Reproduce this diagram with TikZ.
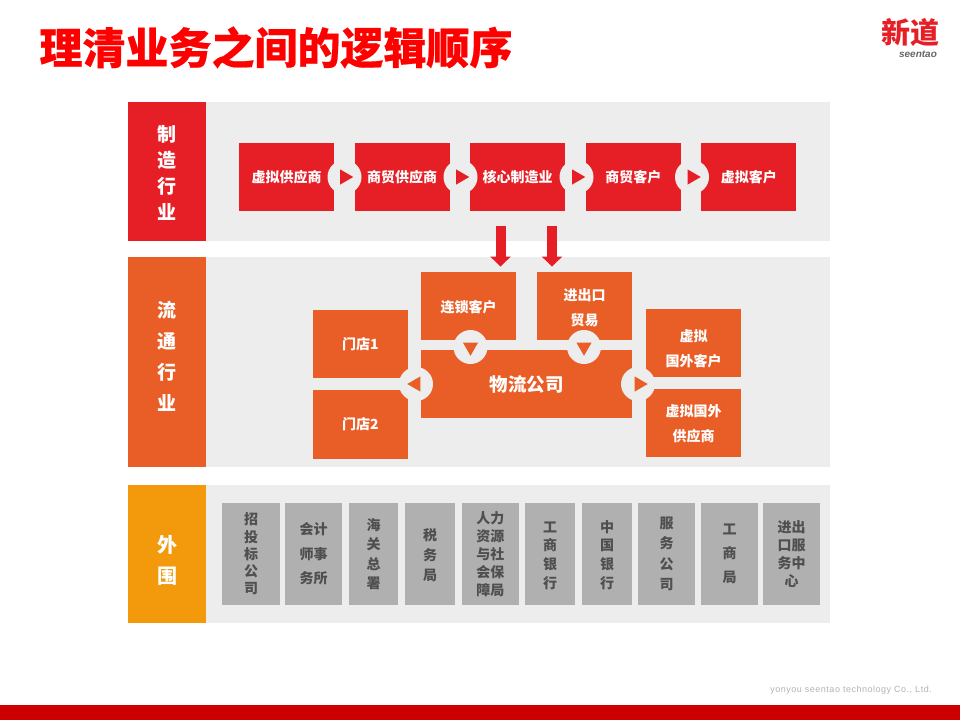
\documentclass[tikz,border=0pt]{standalone}
\usepackage{fontspec}
\setmainfont{Liberation Sans}
\newfontfamily\cjk{Noto Sans CJK SC}
\newfontfamily\cjktitle[BoldFeatures={FakeBold=0.5}]{Noto Sans CJK SC}
\newfontfamily\footfont[LetterSpace=5.7]{Liberation Sans}
\usepackage{tikz}
\usetikzlibrary{
  arrows.meta,%
  calc,%
  positioning,%
  shapes.geometric
}
\definecolor{bandgray}{HTML}{EDEDED}
\definecolor{mfgred}{HTML}{E61F26}
\definecolor{flowrange}{HTML}{E95E27}
\definecolor{amberside}{HTML}{F39A0C}
\definecolor{boxgray}{HTML}{B0B0B0}
\definecolor{textgray}{HTML}{4F4F4F}
% struts that push a stack of text down or up in its box
\newcommand{\pushdown}[1]{\rule{0pt}{#1}}
\newcommand{\pushup}[1]{\rule[-#1]{0pt}{#1}}
\tikzset{>=latex}
\tikzset{
  band/.style={fill=bandgray, draw=none, inner sep=0pt, minimum height=#1},
  sidelabel/.style={fill=#1, text=white, inner sep=0pt, minimum width=78pt, align=center},
  bizbox/.style={fill=#1, text=white, inner sep=0pt, minimum width=95pt, minimum height=68.5pt,
    align=center, font=\cjk\bfseries\fontsize{14}{25}\selectfont},
  grayunit/.style={fill=boxgray, text=textgray, inner sep=0pt, minimum height=102pt,
    align=center, font=\cjk\bfseries\fontsize{14}{#1}\selectfont},
  hole/.style={circle, fill=bandgray, inner sep=0pt, minimum size=34pt},
  marker/.style={regular polygon, regular polygon sides=3, fill=#1, inner sep=0pt, minimum size=17.5pt},
  feedarrow/.style={draw=mfgred, line width=10pt, -{Triangle[width=20pt,length=10pt]}, shorten >=5pt},
}
\begin{document}
\begin{tikzpicture}[x=1pt,y=-1pt]
  \useasboundingbox (0,0) rectangle (960,720);
  % header and footer
  \node[text=red, font=\cjktitle\bfseries\fontsize{43}{50}\selectfont, inner sep=0pt] (title) at (276,47.5) {理清业务之间的逻辑顺序};
  \node[text=mfgred, font=\cjk\bfseries\fontsize{29}{32}\selectfont, inner sep=0pt] (logo) at (910.5,33) {新道};
  \node[text=black!60, font=\itshape\bfseries\fontsize{10}{11}\selectfont, inner sep=0pt] (logotext) at (918,54) {seentao};
  \node[text=black!30, font=\footfont\fontsize{9}{10}\selectfont, inner sep=0pt, anchor=east] (company) at (932,690.5) {yonyou seentao technology Co., Ltd.};
  \fill[red!80!black] (0,705) rectangle (960,720);
  % bands
  \node[band=139pt, minimum width=702pt] (topband) at (479,171.5) {};
  \node[band=210pt, minimum width=702pt] (midband) at (479,362) {};
  \node[band=138pt, minimum width=702pt] (lowband) at (479,554) {};
  \node[sidelabel=mfgred, minimum height=139pt, font=\cjk\bfseries\fontsize{19}{26}\selectfont] (mfg) at (167,171.5) {\pushdown{18pt}制\\造\\行\\业};
  \node[sidelabel=flowrange, minimum height=210pt, font=\cjk\bfseries\fontsize{19}{31}\selectfont] (flow) at (167,362) {流\\通\\行\\业\pushup{13pt}};
  \node[sidelabel=amberside, minimum height=138pt, font=\cjk\bfseries\fontsize{20}{31}\selectfont] (outer) at (167,554) {\pushdown{29pt}外\\围};
  % manufacturing chain
  \node[bizbox=mfgred] (vsupplier) at (286.5,177) {虚拟供应商};
  \node[bizbox=mfgred, right=20.2pt of vsupplier] (tsupplier) {商贸供应商};
  \node[bizbox=mfgred, right=20.2pt of tsupplier] (core) {核心制造业};
  \node[bizbox=mfgred, right=20.2pt of core] (tcustomer) {商贸客户};
  \node[bizbox=mfgred, right=20.2pt of tcustomer] (vcustomer) {虚拟客户};
  \node[hole] (h1) at (344.5,177) {};
  \node[hole] (h2) at (460.5,177) {};
  \node[hole] (h3) at (576.5,177) {};
  \node[hole] (h4) at (692,177) {};
  \node[marker=mfgred, shape border rotate=-90] at (h1) {};
  \node[marker=mfgred, shape border rotate=-90] at (h2) {};
  \node[marker=mfgred, shape border rotate=-90] at (h3) {};
  \node[marker=mfgred, shape border rotate=-90] at (h4) {};
  % logistics
  \node[bizbox=flowrange] (chain) at (468.5,306) {\pushdown{14pt}连锁客户};
  \node[bizbox=flowrange] (trade) at (584.5,306) {\pushdown{16pt}进出口\\贸易};
  \node[bizbox=flowrange, minimum width=211pt, font=\cjk\bfseries\fontsize{18.5}{24}\selectfont] (logistics) at (526.5,384) {物流公司};
  \node[bizbox=flowrange] (store1) at (360.5,344) {门店1};
  \node[bizbox=flowrange] (store2) at (360.5,424.5) {门店2};
  \node[bizbox=flowrange] (vforeignc) at (693.5,343) {\pushdown{23pt}虚拟\\国外客户};
  \node[bizbox=flowrange] (vforeigns) at (693.5,423) {\pushdown{14pt}虚拟国外\\供应商};
  \node[hole] (h5) at (470.5,347) {};
  \node[hole] (h6) at (584,347) {};
  \node[hole] (h7) at (416,384) {};
  \node[hole] (h8) at (638,384) {};
  \node[marker=flowrange, shape border rotate=180] at (h5) {};
  \node[marker=flowrange, shape border rotate=180] at (h6) {};
  \node[marker=flowrange, shape border rotate=90] at (h7) {};
  \node[marker=flowrange, shape border rotate=-90, xshift=1pt] at (h8) {};
  % feeds from the manufacturing row
  \coordinate (feed1) at (500.5,226);
  \coordinate (feed2) at (552,226);
  \draw[feedarrow] (feed1) -- (feed1 |- chain.north);
  \draw[feedarrow] (feed2) -- (feed2 |- trade.north);
  % outside units
  \node[grayunit=17.2, minimum width=58pt] (u1) at (251,554) {招\\投\\标\\公\\司};
  \node[grayunit=24.5, minimum width=57pt] (u2) at (313.5,554) {会计\\师事\\务所};
  \node[grayunit=19.5, minimum width=49pt] (u3) at (373.5,554) {海\\关\\总\\署};
  \node[grayunit=20, minimum width=50pt] (u4) at (430,554) {\pushdown{14pt}税\\务\\局};
  \node[grayunit=18, minimum width=57.5pt] (u5) at (490.25,554) {人力\\资源\\与社\\会保\\障局};
  \node[grayunit=18.7, minimum width=50pt] (u6) at (550,554) {\pushdown{14pt}工\\商\\银\\行};
  \node[grayunit=18.7, minimum width=50pt] (u7) at (607,554) {\pushdown{14pt}中\\国\\银\\行};
  \node[grayunit=20.6, minimum width=57pt] (u8) at (666.5,554) {服\\务\\公\\司};
  \node[grayunit=24, minimum width=57pt] (u9) at (729.5,554) {工\\商\\局};
  \node[grayunit=18, minimum width=57pt] (u10) at (791.5,554) {进出\\口服\\务中\\心};
\end{tikzpicture}
\end{document}
